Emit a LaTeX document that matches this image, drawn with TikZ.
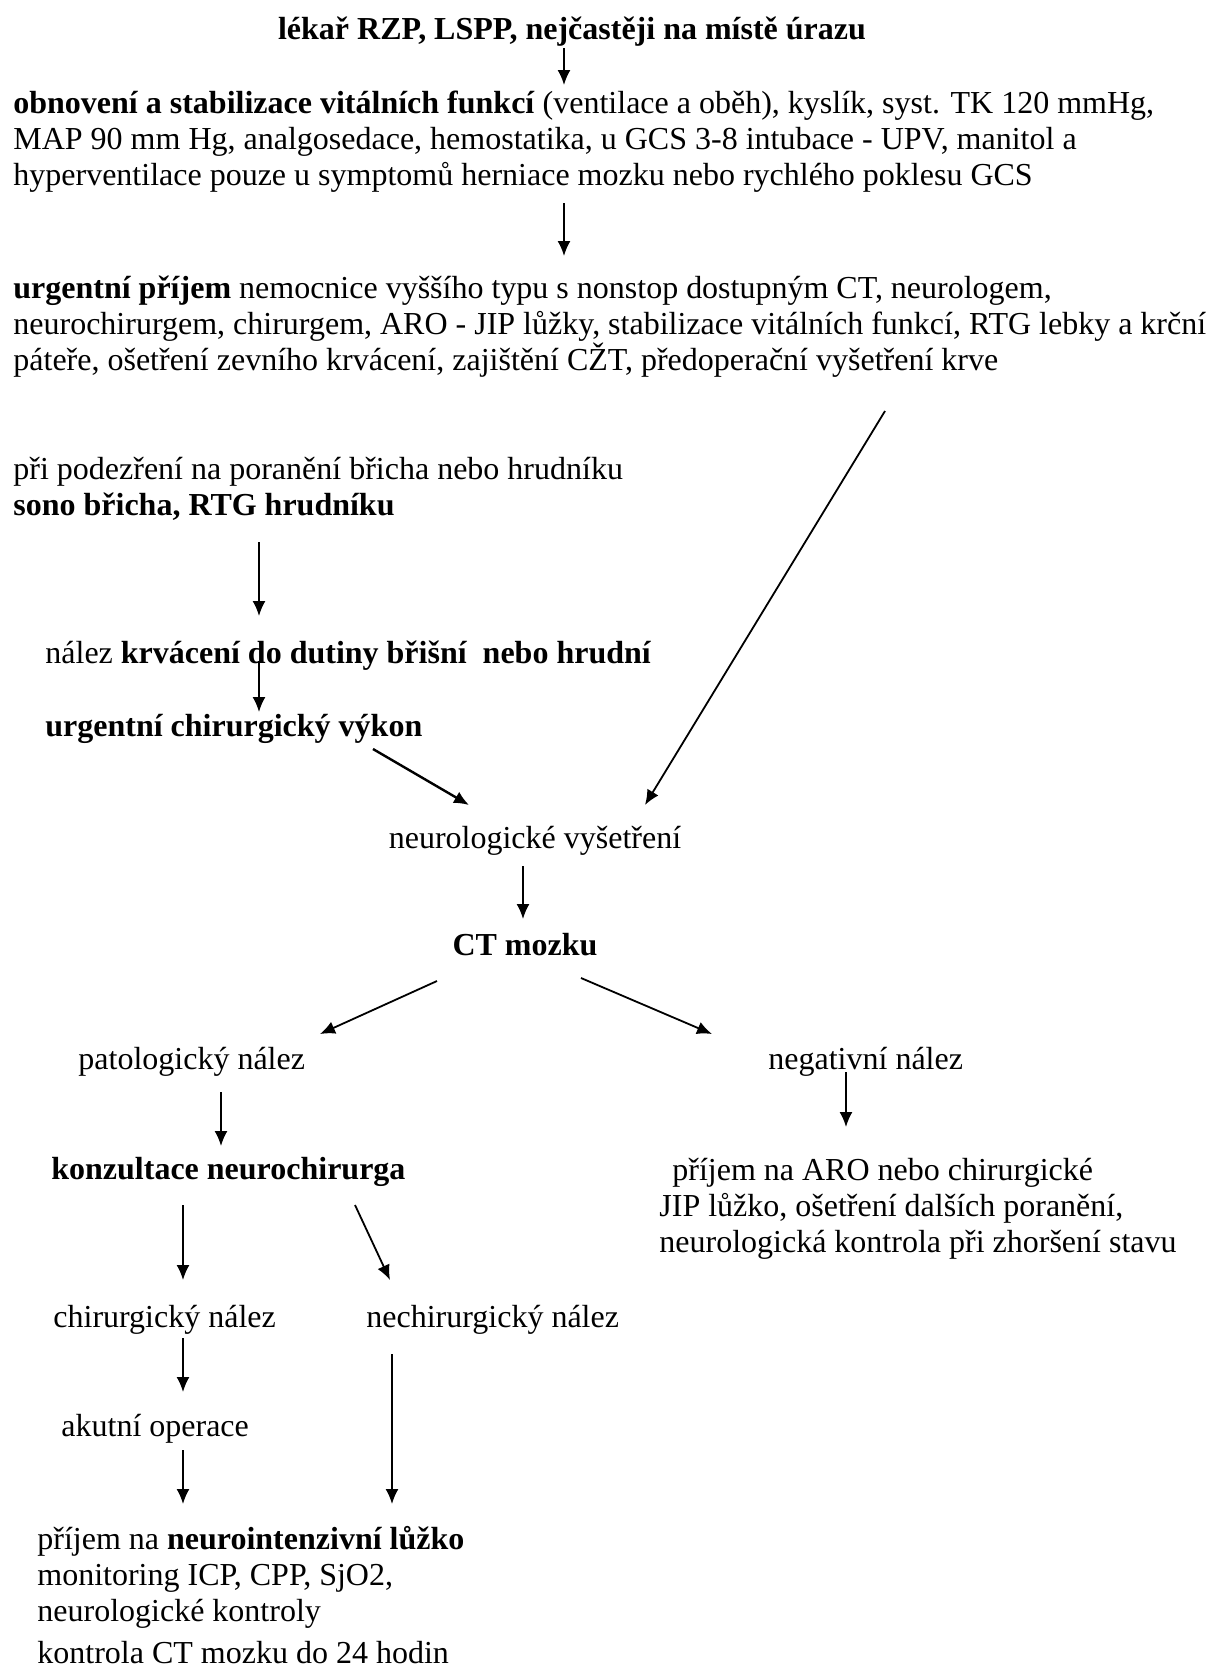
\documentclass[tikz,border=0pt]{standalone}
\usepackage{fontspec}
\setmainfont{Liberation Serif}
\usetikzlibrary{arrows.meta}
\newcommand{\blk}[1]{\parbox[t]{620pt}{\raggedright\fontsize{16}{18}\selectfont #1}}
\begin{document}
\begin{tikzpicture}[x=0.5pt,y=-0.5pt,
  txt/.style={inner sep=0pt,anchor=base west,font=\fontsize{16}{18}\selectfont},
  ctxt/.style={inner sep=0pt,anchor=base,font=\fontsize{16}{18}\selectfont},
  arr/.style={-{Latex[length=7.5pt,width=6.5pt]},line width=0.9pt}]
\useasboundingbox (0,0) rectangle (1221,1672);
\fill[white] (0,0) rectangle (1221,1672);
% texts
\begin{scope}[shift={(0,3)}]
\node[ctxt] (title) at (572,36) {\textbf{lékař RZP, LSPP, nejčastěji na místě úrazu}};
\node[txt] (stab) at (13,110) {\blk{\textbf{obnovení a stabilizace vitálních funkcí} (ventilace a oběh), kyslík, syst. TK 120 mmHg,\\
MAP 90 mm Hg, analgosedace, hemostatika, u GCS 3-8 intubace - UPV, manitol a\\
hyperventilace pouze u symptomů herniace mozku nebo rychlého poklesu GCS}};
\node[txt] (urg) at (13,295) {\blk{\textbf{urgentní příjem} nemocnice vyššího typu s nonstop dostupným CT, neurologem,\\
neurochirurgem, chirurgem, ARO - JIP lůžky, stabilizace vitálních funkcí, RTG lebky a krční\\
páteře, ošetření zevního krvácení, zajištění CŽT, předoperační vyšetření krve}};
\node[txt] (podez) at (13,476) {\blk{při podezření na poranění břicha nebo hrudníku\\
\textbf{sono břicha, RTG hrudníku}}};
\node[txt] (nalez) at (45,660) {nález \textbf{krvácení do dutiny břišní\ \ nebo hrudní}};
\node[txt] (vykon) at (45,733) {\textbf{urgentní chirurgický výkon}};
\node[ctxt] (neuro) at (535,845) {neurologické vyšetření};
\node[ctxt] (ct) at (525,952) {\textbf{CT mozku}};
\node[txt] (pat) at (78,1066) {patologický nález};
\node[txt] (neg) at (768,1066) {negativní nález};
\node[txt] (konz) at (51,1176) {\textbf{konzultace neurochirurga}};
\node[txt] (aro) at (659,1177) {\blk{\hspace*{6.5pt}příjem na ARO nebo chirurgické\\
JIP lůžko, ošetření dalších poranění,\\
neurologická kontrola při zhoršení stavu}};
\node[txt] (chir) at (53,1324) {chirurgický nález};
\node[txt] (nechir) at (366,1324) {nechirurgický nález};
\node[txt] (akut) at (61,1433) {akutní operace};
\node[txt] (lozko) at (37,1546) {\blk{příjem na \textbf{neurointenzivní lůžko}\\
monitoring ICP, CPP, SjO2,\\
neurologické kontroly}};
\end{scope}
\node[txt] (kontr) at (37,1663) {kontrola CT mozku do 24 hodin};
% connector end points
\coordinate (a1s) at (564,48);   \coordinate (a1e) at (564,85);
\coordinate (a2s) at (564,203);  \coordinate (a2e) at (564,256);
\coordinate (a3s) at (885,411);  \coordinate (a3e) at (645,805);
\coordinate (a4s) at (259,542);  \coordinate (a4e) at (259,616);
\coordinate (a5s) at (259,661);  \coordinate (a5e) at (259,712);
\coordinate (a7s) at (523,866);  \coordinate (a7e) at (523,919);
\coordinate (a8s) at (437,981);  \coordinate (a8e) at (320,1034);
\coordinate (a9s) at (581,978);  \coordinate (a9e) at (712,1034);
\coordinate (b1s) at (221,1092); \coordinate (b1e) at (221,1146);
\coordinate (b2s) at (846,1072); \coordinate (b2e) at (846,1127);
\coordinate (b3s) at (183,1205); \coordinate (b3e) at (183,1280);
\coordinate (b4s) at (355,1205); \coordinate (b4e) at (390,1280);
\coordinate (b5s) at (183,1338); \coordinate (b5e) at (183,1392);
\coordinate (b6s) at (392,1354); \coordinate (b6e) at (392,1504);
\coordinate (b7s) at (183,1450); \coordinate (b7e) at (183,1504);
\coordinate (a6s) at (373,749);  \coordinate (a6e) at (469,805);
\foreach \p in {a1,a2,a3,a4,a5,a7,a8,a9,b1,b2,b3,b4,b5,b6,b7}
  \draw[arr] (\p s) -- (\p e);
\draw[arr,line width=1.2pt] (a6s) -- (a6e);
\end{tikzpicture}
\end{document}
